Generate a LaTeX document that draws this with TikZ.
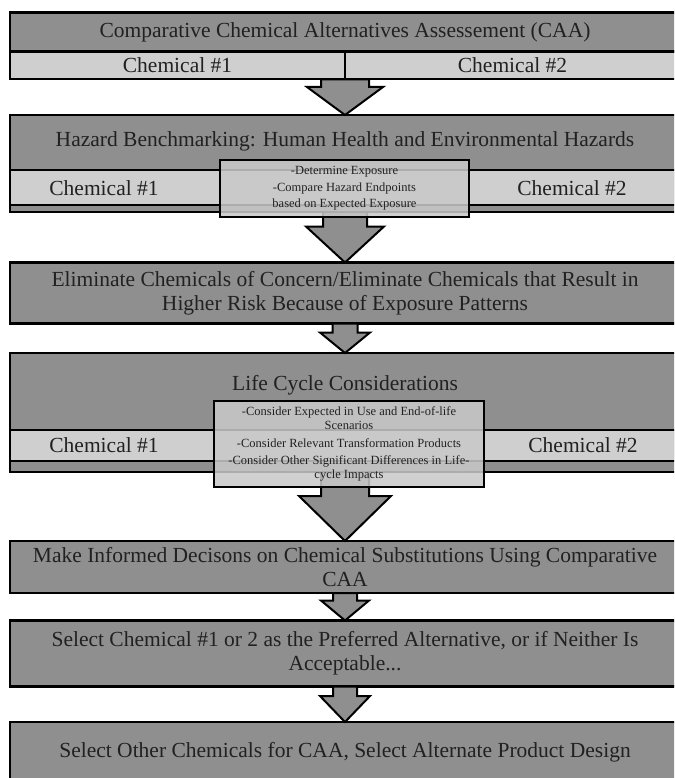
\documentclass[tikz,border=0pt]{standalone}
\usepackage{fontspec}
\setmainfont{Liberation Serif}
\usetikzlibrary{calc}
\definecolor{bandgray}{gray}{0.56}
\definecolor{chemgray}{gray}{0.81}
\definecolor{notegray}{gray}{0.79}
\definecolor{inkgray}{gray}{0.13}
\tikzset{
 band/.style={draw=black,line width=2.4pt,fill=bandgray,rectangle,anchor=north west,
  inner sep=0pt,outer sep=0pt,align=center,text=inkgray,font=\fontsize{21.5}{24}\selectfont},
 chemcell/.style={band,fill=chemgray},
 lbl/.style={inner sep=0pt,text=inkgray,font=\fontsize{21.5}{24}\selectfont},
 note/.style={draw=black,line width=1.8pt,fill=notegray,fill opacity=0.86,text opacity=1,
  anchor=north west,inner sep=0pt,outer sep=0pt,align=center,text=inkgray},
 barrow/.style={draw=black,line width=2pt,fill=bandgray,line join=miter}
}
% block arrow: from, to, shaft half width, head half width, head length
\newcommand{\blockarrow}[5]{%
 \draw[barrow] let \p1=(#1), \p2=(#2) in (\x2,\y2) -- (\x2-#4pt,\y2+#5pt) -- (\x2-#3pt,\y2+#5pt)
  -- (\x2-#3pt,\y1) -- (\x2+#3pt,\y1) -- (\x2+#3pt,\y2+#5pt) -- (\x2+#4pt,\y2+#5pt) -- cycle;}
\begin{document}
\begin{tikzpicture}[x=1pt,y=-1pt]
 \clip (0,0) rectangle (674,778);
 \fill[white] (0,0) rectangle (674,778);
 % CAA
 \node[band,minimum width=670pt,minimum height=39pt] (b1t) at (10,12.7) {Comparative Chemical Alternatives Assessement (CAA)};
 \node[chemcell,minimum width=335pt,minimum height=27.6pt] (b1l) at (10,51.7) {Chemical \#1};
 \node[chemcell,minimum width=335pt,minimum height=27.6pt] (b1r) at (345,51.7) {Chemical \#2};
 % hazard benchmarking
 \node[band,minimum width=670pt,minimum height=97pt] (b2) at (10,115) {};
 \node[lbl] (b2t) at (345,141) {Hazard Benchmarking: Human Health and Environmental Hazards};
 \node[chemcell,minimum width=670pt,minimum height=35pt] (b2c) at (10,170) {};
 \node[lbl] (b2l) at (104,188.5) {Chemical \#1};
 \node[lbl] (b2r) at (572,188.5) {Chemical \#2};
 % eliminate
 \node[band,minimum width=670pt,minimum height=61pt] (b3) at (10,262.5) {Eliminate Chemicals of Concern/Eliminate Chemicals that Result in\\Higher Risk Because of Exposure Patterns};
 % life cycle
 \node[band,minimum width=670pt,minimum height=119pt] (b4) at (10,353) {};
 \node[lbl] (b4t) at (345,385) {Life Cycle Considerations};
 \node[chemcell,minimum width=670pt,minimum height=31pt] (b4c) at (10,430) {};
 \node[lbl] (b4l) at (104,445.5) {Chemical \#1};
 \node[lbl] (b4r) at (583,445.5) {Chemical \#2};
 % decisions
 \node[band,minimum width=670pt,minimum height=52pt] (b5) at (10,541) {Make Informed Decisons on Chemical Substitutions Using Comparative\\CAA};
 \node[band,minimum width=670pt,minimum height=66pt] (b6) at (10,620.5) {Select Chemical \#1 or 2 as the Preferred Alternative, or if Neither Is\\Acceptable...};
 \node[band,minimum width=670pt,minimum height=60pt] (b7) at (10,722) {Select Other Chemicals for CAA, Select Alternate Product Design};
 % arrows
 \blockarrow{b1l.south east}{b2.north}{24}{38}{28}
 \blockarrow{b2.south}{b3.north}{22}{39}{36}
 \blockarrow{b3.south}{b4.north}{12.5}{25}{20.5}
 \blockarrow{b4.south}{b5.north}{24}{46}{45}
 \blockarrow{b5.south}{b6.north}{12}{24}{20}
 \blockarrow{b6.south}{b7.north}{12}{25}{26}
 % notes
 \node[note,minimum width=249pt,minimum height=57pt,font=\fontsize{12.5}{16.4}\selectfont] (n2) at (220,160)
  {-Determine Exposure\\-Compare Hazard Endpoints\\based on Expected Exposure};
 \node[note,minimum width=270pt,minimum height=86pt,font=\fontsize{12.5}{13.4}\selectfont] (n4) at (214,401)
  {-Consider Expected in Use and End-of-life\\Scenarios\\[4.5pt]-Consider Relevant Transformation Products\\[4.5pt]-Consider Other Significant Differences in Life-\\cycle Impacts};
\end{tikzpicture}
\end{document}
